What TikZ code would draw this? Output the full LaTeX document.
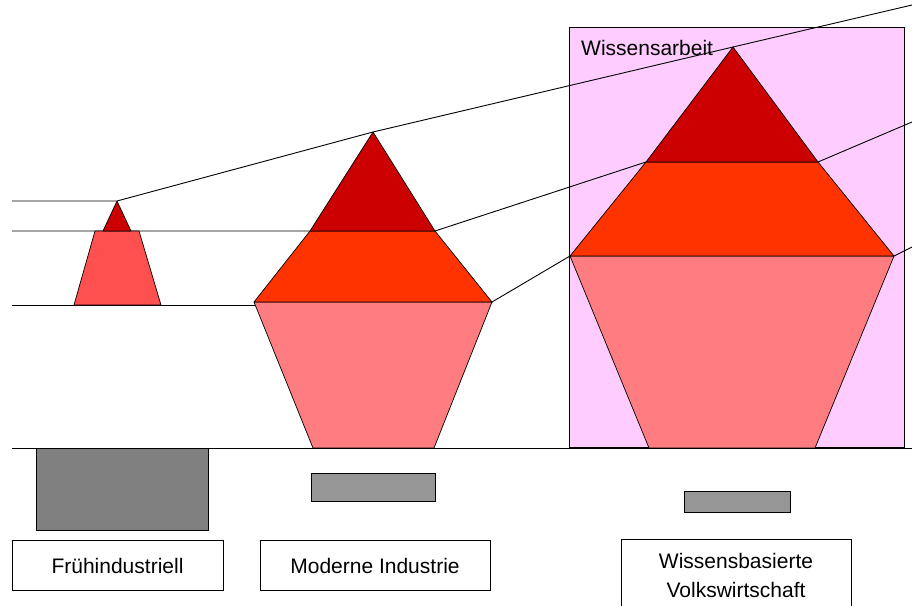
\documentclass[tikz,border=0pt]{standalone}
\usepackage{fontspec}
\setmainfont{Liberation Sans}
\begin{document}
\begin{tikzpicture}[x=1pt,y=-1pt,
  edge/.style={draw=black,line width=0.9pt},
  layer/.style={draw=black,line width=0.7pt,line join=round},
  lbl/.style={font=\fontsize{21}{25}\selectfont,inner sep=0pt},
  labelbox/.style={draw=black,line width=0.8pt,fill=white}]
\definecolor{darkred}{HTML}{CC0000}
\definecolor{orangered}{HTML}{FF3300}
\definecolor{pinkbase}{HTML}{FF7C80}
\definecolor{smallbase}{HTML}{FF5050}
\definecolor{lilac}{HTML}{FFCCFF}
\definecolor{gA}{HTML}{808080}
\definecolor{gB}{HTML}{969696}
\useasboundingbox (0,0) rectangle (912,605);
\fill[white] (0,0) rectangle (912,605);
% knowledge work box
\draw[fill=lilac,line width=0.8pt] (569,27) rectangle (904,447);
\node[lbl,anchor=base west] (wa) at (581,55) {Wissensarbeit};
% coordinates
\coordinate (sA) at (117,201);
\coordinate (sB1) at (103,231); \coordinate (sB2) at (131,231);
\coordinate (sT1) at (95,231); \coordinate (sT2) at (139,231);
\coordinate (sT3) at (161,305); \coordinate (sT4) at (74,305);
\coordinate (mA) at (373,132);
\coordinate (mB1) at (310,231); \coordinate (mB2) at (435,231);
\coordinate (mC1) at (254,302); \coordinate (mC2) at (492,302);
\coordinate (mD1) at (313,448); \coordinate (mD2) at (434,448);
\coordinate (rA) at (733,47);
\coordinate (rB1) at (646,162); \coordinate (rB2) at (818,162);
\coordinate (rC1) at (570,256); \coordinate (rC2) at (894,256);
\coordinate (rD1) at (649,448); \coordinate (rD2) at (815,448);
\coordinate (l1s) at (12,201); \coordinate (l1e) at (912,5);
\coordinate (l2s) at (12,231); \coordinate (l2e) at (912,122);
\coordinate (l3s) at (12,305); \coordinate (l3m) at (255,305); \coordinate (l3e) at (912,247);
\coordinate (g1) at (12,448); \coordinate (g2) at (912,448);
% connector lines (behind pyramids)
\draw[edge] (l1s) -- (sA) -- (mA) -- (rA) -- (l1e);
\draw[edge] (l2s) -- (mB2) -- (rB1) -- (rB2) -- (l2e);
\draw[edge] (l3s) -- (l3m);
\draw[edge] (mC2) -- (rC1);
\draw[edge] (rC2) -- (l3e);
% small pyramid
\draw[layer,fill=smallbase] (sT1) -- (sT2) -- (sT3) -- (sT4) -- cycle;
\draw[layer,fill=darkred] (sA) -- (sB2) -- (sB1) -- cycle;
% middle pyramid
\draw[layer,fill=pinkbase] (mC1) -- (mC2) -- (mD2) -- (mD1) -- cycle;
\draw[layer,fill=orangered] (mB1) -- (mB2) -- (mC2) -- (mC1) -- cycle;
\draw[layer,fill=darkred] (mA) -- (mB2) -- (mB1) -- cycle;
% right pyramid
\draw[layer,fill=pinkbase] (rC1) -- (rC2) -- (rD2) -- (rD1) -- cycle;
\draw[layer,fill=orangered] (rB1) -- (rB2) -- (rC2) -- (rC1) -- cycle;
\draw[layer,fill=darkred] (rA) -- (rB2) -- (rB1) -- cycle;
% ground line
\draw[edge] (g1) -- (g2);
% gray bars
\draw[line width=0.8pt,fill=gA] (36,448) rectangle (208,530);
\draw[line width=0.8pt,fill=gB] (311,473) rectangle (435,501);
\draw[line width=0.8pt,fill=gB] (684,491) rectangle (790,512);
% label boxes
\draw[labelbox] (12,540) rectangle (223,590);
\node[lbl,anchor=base] (t1) at (117.5,573) {Frühindustriell};
\draw[labelbox] (260,540) rectangle (490,590);
\node[lbl,anchor=base] (t2) at (375,573) {Moderne Industrie};
\draw[labelbox] (621,539) rectangle (851,612);
\node[lbl,anchor=base] (t3a) at (736,568) {Wissensbasierte};
\node[lbl,anchor=base] (t3b) at (736,597) {Volkswirtschaft};
\end{tikzpicture}
\end{document}
